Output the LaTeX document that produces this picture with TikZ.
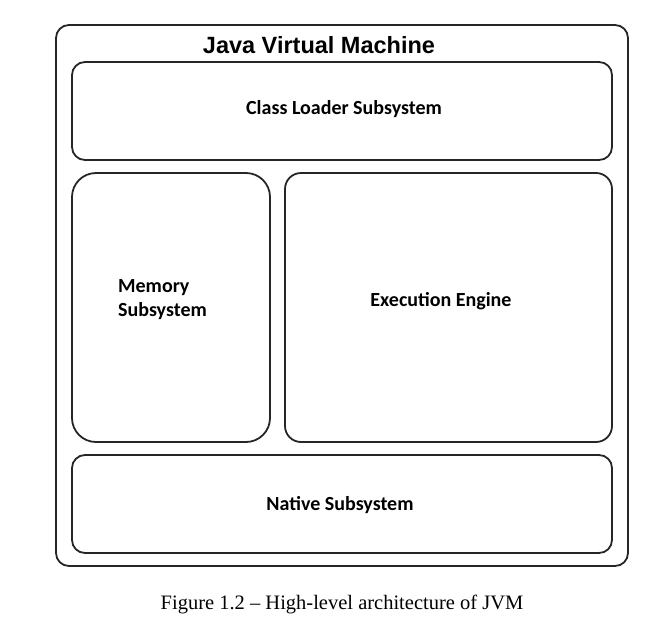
\documentclass[tikz,border=0pt]{standalone}
\usepackage{fontspec}
\setmainfont{Liberation Serif}
\newfontfamily\calib{Carlito}
\newfontfamily\arialf{Liberation Sans}
\begin{document}
\begin{tikzpicture}[x=1pt,y=-1pt,
  box/.style={draw=black!85,line width=1.8pt},
  lbl/.style={font=\calib\bfseries\fontsize{20}{24}\selectfont,inner sep=0pt}]
\useasboundingbox (0,0) rectangle (660,629);
\draw[box,rounded corners=13] (56,25) rectangle (628,566);
\node[font=\arialf\bfseries\fontsize{23.5}{26}\selectfont,inner sep=0pt] (title) at (319,45) {Java Virtual Machine};
\draw[box,rounded corners=13] (72,62) rectangle (612,160);
\node[lbl] (cls) at (344,109) {Class Loader Subsystem};
\draw[box,rounded corners=24] (72,173) rectangle (270,442);
\node[lbl,align=left,anchor=west] (mem) at (118,300) {Memory\\Subsystem};
\draw[box,rounded corners=16] (285,173) rectangle (612,442);
\node[lbl] (exe) at (441,301) {Execution Engine};
\draw[box,rounded corners=13] (72,455) rectangle (612,553);
\node[lbl] (nat) at (340,505) {Native Subsystem};
\node[font=\fontsize{20.5}{24}\selectfont,inner sep=0pt] (cap) at (342,604) {Figure 1.2 – High-level architecture of JVM};
\end{tikzpicture}
\end{document}
